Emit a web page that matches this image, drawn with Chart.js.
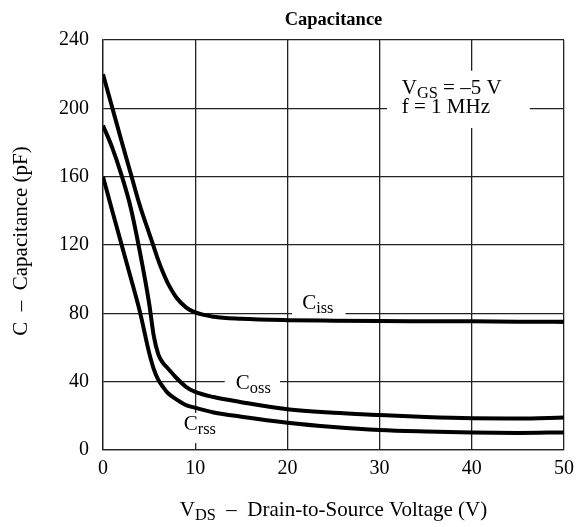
<!DOCTYPE html>
<html>
<head>
<meta charset="utf-8">
<script src="https://cdn.jsdelivr.net/npm/chart.js@4/dist/chart.umd.min.js"></script>
<style>
  html, body { margin: 0; padding: 0; background: #fff; }
  #wrap { width: 576px; height: 527px; position: relative; }
</style>
</head>
<body>
<div id="wrap"><canvas id="capChart"></canvas></div>
<script>
// VDS (V) sample points, shared by all three curves
const vds = [0, 1, 2, 3, 4, 5, 5.5, 6, 6.5, 7, 8, 9, 10, 12, 15, 20, 25, 30, 35, 40, 45, 50];
// capacitances (pF)
const ciss = [220, 200.5, 181, 162, 143, 127, 119, 111, 104, 98, 89, 83.5, 80.5, 78, 76.8, 76, 75.7, 75.5, 75.4, 75.3, 75.1, 75];
const coss = [190, 177, 161, 142, 116, 86, 67, 56, 51, 48, 42, 37, 34, 31, 28, 23.8, 21.8, 20.5, 19.3, 18.6, 18.5, 19];
const crss = [160, 140, 120.5, 101, 81, 57, 47.5, 41, 37, 33.5, 29.5, 26.3, 24.7, 22, 19.5, 16, 13.5, 11.7, 10.8, 10.2, 10, 10.3];

const xTicks = [0, 10, 20, 30, 40, 50];
const yTicks = [0, 40, 80, 120, 160, 200, 240];

const SERIF = "'Liberation Serif', 'DejaVu Serif', serif";
Chart.defaults.font.family = SERIF;
Chart.defaults.color = '#000';

function toPoints(ys) {
    return vds.map((v, i) => ({ x: v, y: ys[i] }));
}

// draws text made of pieces, some of them subscript
function drawRich(ctx, parts, x, y, size, align) {
    const widths = parts.map(p => {
        ctx.font = (p.sub ? size * 0.78 : size) + 'px ' + SERIF;
        return ctx.measureText(p.t).width;
    });
    const total = widths.reduce((a, b) => a + b, 0);
    let cx = align === 'center' ? x - total / 2 : x;
    ctx.textBaseline = 'alphabetic';
    ctx.textAlign = 'left';
    parts.forEach((p, i) => {
        ctx.font = (p.sub ? size * 0.78 : size) + 'px ' + SERIF;
        ctx.fillText(p.t, cx, p.sub ? y + size * 0.2 : y);
        cx += widths[i];
    });
}

// labels on the plot, anchored in data units, with a white box behind
const labelPlugin = {
    id: 'labels',
    beforeDatasetsDraw(chart) {
        const ctx = chart.ctx;
        const xs = chart.scales.x, ys = chart.scales.y;
        ctx.save();
        ctx.fillStyle = '#fff';
        // boxes that break the grid lines
        const boxes = [
            [30.8, 222, 46.3, 188.5], // VGS / f note
            [20.5, 92, 26.3, 78],     // Ciss
            [13.2, 46, 19.2, 33],     // Coss
            [8.6, 21.7, 12.6, 4]      // Crss
        ];
        boxes.forEach(b => {
            const x0 = xs.getPixelForValue(b[0]), x1 = xs.getPixelForValue(b[2]);
            const y0 = ys.getPixelForValue(b[1]), y1 = ys.getPixelForValue(b[3]);
            ctx.fillRect(x0, y0, x1 - x0, y1 - y0);
        });
        ctx.fillStyle = '#000';
        drawRich(ctx, [{ t: 'V' }, { t: 'GS', sub: true }, { t: ' = –5 V' }],
            xs.getPixelForValue(32.4), ys.getPixelForValue(208.5), 21, 'left');
        drawRich(ctx, [{ t: 'f = 1 MHz' }],
            xs.getPixelForValue(32.4), ys.getPixelForValue(197.5), 21, 'left');
        drawRich(ctx, [{ t: 'C' }, { t: 'iss', sub: true }],
            xs.getPixelForValue(23.3), ys.getPixelForValue(82.5), 21, 'center');
        drawRich(ctx, [{ t: 'C' }, { t: 'oss', sub: true }],
            xs.getPixelForValue(16.3), ys.getPixelForValue(36), 21, 'center');
        drawRich(ctx, [{ t: 'C' }, { t: 'rss', sub: true }],
            xs.getPixelForValue(10.5), ys.getPixelForValue(12), 21, 'center');
        ctx.restore();
    },
    afterDraw(chart) {
        const ctx = chart.ctx;
        const area = chart.chartArea;
        const mid = (area.left + area.right) / 2;
        ctx.save();
        ctx.fillStyle = '#000';
        ctx.font = 'bold 18.5px ' + SERIF;
        ctx.textAlign = 'center';
        ctx.textBaseline = 'alphabetic';
        ctx.fillText('Capacitance', mid, 25);
        drawRich(ctx, [{ t: 'V' }, { t: 'DS', sub: true }, { t: '  –  Drain-to-Source Voltage (V)' }],
            mid, 516, 21, 'center');
        ctx.translate(27, 241);
        ctx.rotate(-Math.PI / 2);
        ctx.font = '21px ' + SERIF;
        ctx.textAlign = 'center';
        ctx.fillText('C  –  Capacitance (pF)', 0, 0);
        ctx.restore();
    }
};

const lineStyle = {
    borderColor: '#000',
    borderWidth: 4,
    pointRadius: 0,
    fill: false,
    cubicInterpolationMode: 'monotone'
};

const ctx = document.getElementById('capChart').getContext('2d');
new Chart(ctx, {
    type: 'line',
    data: {
        datasets: [
            { label: 'Ciss', data: toPoints(ciss), ...lineStyle },
            { label: 'Coss', data: toPoints(coss), ...lineStyle },
            { label: 'Crss', data: toPoints(crss), ...lineStyle }
        ]
    },
    options: {
        responsive: true,
        maintainAspectRatio: false,
        animation: false,
        layout: { padding: { top: 40, right: 12, left: 0, bottom: 0 } },
        plugins: {
            legend: { display: false },
            tooltip: { enabled: false },
            title: { display: false }
        },
        scales: {
            x: {
                type: 'linear',
                min: 0,
                max: 50,
                afterBuildTicks: s => { s.ticks = xTicks.map(v => ({ value: v })); },
                afterFit: s => { s.height = 77; s.paddingLeft = 0; s.paddingRight = 0; },
                ticks: { font: { size: 20 }, padding: 7, maxRotation: 0 },
                grid: { color: '#222', lineWidth: 1.3, drawTicks: false },
                border: { color: '#222', width: 1.3 }
            },
            y: {
                min: 0,
                max: 240,
                afterBuildTicks: s => { s.ticks = yTicks.map(v => ({ value: v })); },
                afterFit: s => { s.width = 103; s.paddingTop = 0; s.paddingBottom = 0; },
                ticks: { font: { size: 20 }, padding: 14 },
                grid: { color: '#222', lineWidth: 1.3, drawTicks: false },
                border: { color: '#222', width: 1.3 }
            }
        }
    },
    plugins: [labelPlugin]
});
</script>
</body>
</html>
